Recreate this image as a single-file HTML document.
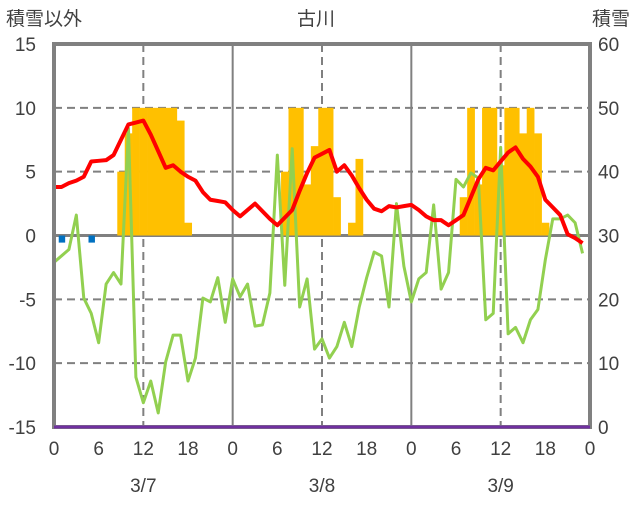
<!DOCTYPE html>
<html><head><meta charset="utf-8"><style>
body{margin:0;background:#fff;}
svg text{font-family:"Liberation Sans","Noto Sans CJK JP",sans-serif;fill:#404040;}
</style></head><body>
<svg id="chart" width="636" height="501" xmlns="http://www.w3.org/2000/svg">
<text x="6" y="25" font-size="19">積雪以外</text>
<text x="316" y="25" font-size="19" text-anchor="middle">古川</text>
<text x="630" y="25" font-size="19" text-anchor="end">積雪</text>
<g id="grid"></g><g id="bars"></g><g id="lines"></g><g id="axes"></g>
</svg>
<script>
const leftTicks=[15,10,5,0,-5,-10,-15];
const rightTicks=[60,50,40,30,20,10,0];
const hourLabels=[0,6,12,18,0,6,12,18,0,6,12,18,0];
const dates=["3/7","3/8","3/9"];
const temp=[3.8,3.8,4.1,4.3,4.6,5.8,5.85,5.9,6.3,7.5,8.7,8.85,9.0,7.9,6.6,5.3,5.5,5.0,4.6,4.3,3.4,2.8,2.7,2.6,
2.0,1.5,2.0,2.5,1.9,1.3,0.8,1.4,2.0,3.5,4.9,6.1,6.4,6.7,5.0,5.5,4.7,3.7,2.8,2.1,1.9,2.3,2.2,2.3,
2.4,2.0,1.5,1.2,1.2,0.8,1.2,1.6,3.0,4.4,5.3,5.1,5.8,6.5,6.9,6.0,5.4,4.6,2.8,2.2,1.6,0.1,-0.2,-0.6];
const other=[-2.1,-1.6,-1.1,1.6,-4.9,-6.1,-8.4,-3.8,-2.9,-3.8,8.4,-11.1,-13.1,-11.4,-13.9,-9.9,-7.8,-7.8,-11.4,-9.6,-4.9,-5.2,-3.3,-6.8,
-3.4,-4.8,-3.8,-7.1,-7.0,-4.5,6.3,-3.9,6.8,-5.6,-3.4,-8.9,-8.1,-9.6,-8.7,-6.8,-8.7,-5.6,-3.3,-1.3,-1.6,-5.6,2.5,-2.4,
-5.2,-3.4,-2.9,2.4,-4.2,-2.9,4.4,3.8,4.9,4.5,-6.6,-6.1,6.9,-7.7,-7.2,-8.4,-6.6,-5.8,-1.9,1.3,1.3,1.6,1.0,-1.4];
const snowHours=[9,10,11,12,13,14,15,16,17,18, 31,32,33,34,35,36,37,38,40,41, 55,56,57,58,59,60,61,62,63,64,65,66];
const snowVals=[40,46,50,50,50,50,50,50,48,32, 40,50,50,38,44,50,50,36,32,42, 36,50,38,50,50,41,50,50,46,50,46,32];
const precipHours=[1,5];
const precipVals=[-0.4,-0.4];
const NS="http://www.w3.org/2000/svg";
const X0=54,X1=590,Y0=44,Y1=427;
const xs=h=>X0+(X1-X0)*h/72;
const yl=v=>Y1-(v+15)/30*(Y1-Y0);
const yr=v=>Y1-v/60*(Y1-Y0);
function mk(tag,attrs,parent){const e=document.createElementNS(NS,tag);for(const k in attrs)e.setAttribute(k,attrs[k]);document.getElementById(parent).appendChild(e);return e;}
// grid
leftTicks.forEach(t=>{if(t===15||t===-15||t===0)return;const l=mk('line',{x1:X0,x2:X1,y1:yl(t),y2:yl(t),stroke:'#808080','stroke-width':2,'stroke-dasharray':'8,5'},'grid');

});
for(let h=12;h<72;h+=24){const l=mk('line',{x1:xs(h),x2:xs(h),y1:Y0,y2:Y1,stroke:'#808080','stroke-width':2,'stroke-dasharray':'8,5'},'grid');

}
for(let h=24;h<72;h+=24){const l=mk('line',{x1:xs(h),x2:xs(h),y1:Y0,y2:Y1,stroke:'#808080','stroke-width':2},'grid');

}
// bars
const bw=(X1-X0)/72;
snowHours.forEach((h,i)=>{const v=snowVals[i];const r=mk('rect',{x:xs(h)-bw/2,y:yr(v),width:bw+0.3,height:yr(30)-yr(v),fill:'#FFC000'},'bars');

});
precipHours.forEach((h,i)=>{const v=precipVals[i];const r=mk('rect',{x:xs(h)-bw/2+1,y:yl(0),width:bw-1,height:yl(v)-yl(0)+2,fill:'#0070C0'},'bars');

});
// zero line
const z=mk('line',{x1:X0,x2:X1,y1:yl(0),y2:yl(0),stroke:'#808080','stroke-width':3},'grid');


// lines
const g=mk('polyline',{points:other.map((v,i)=>xs(i)+','+yl(v)).join(' '),fill:'none',stroke:'#92D050','stroke-width':3,'stroke-linejoin':'round'},'lines');


const r=mk('polyline',{points:temp.map((v,i)=>xs(i)+','+yl(v)).join(' '),fill:'none',stroke:'#FF0000','stroke-width':4,'stroke-linejoin':'round'},'lines');


// frame
const f=mk('rect',{x:X0,y:Y0,width:X1-X0,height:Y1-Y0,fill:'none',stroke:'#808080','stroke-width':4},'axes');


const p=mk('line',{x1:X0,x2:X1,y1:Y1,y2:Y1,stroke:'#7030A0','stroke-width':3},'axes');


leftTicks.forEach(t=>{const e=mk('text',{x:36,y:yl(t)+7,'font-size':19,'text-anchor':'end'},'axes');e.textContent=t;

});
rightTicks.forEach(t=>{const e=mk('text',{x:598,y:yr(t)+7,'font-size':19},'axes');e.textContent=t;

});
hourLabels.forEach((t,i)=>{const e=mk('text',{x:xs(i*6),y:455,'font-size':19,'text-anchor':'middle'},'axes');e.textContent=t;

});
dates.forEach((t,i)=>{const e=mk('text',{x:xs(i*24+12),y:492,'font-size':19,'text-anchor':'middle'},'axes');e.textContent=t;

});
</script>
</body></html>
